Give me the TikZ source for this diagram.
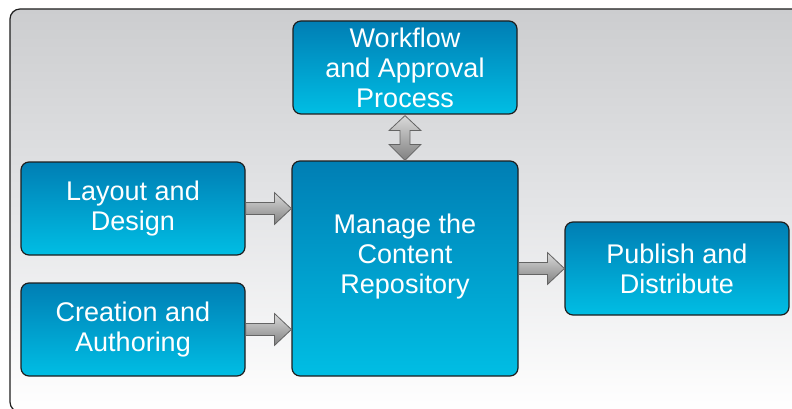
\documentclass[tikz,border=0pt]{standalone}
\usepackage{fontspec}
\setmainfont{Liberation Sans}
\usetikzlibrary{calc}
\definecolor{boxtop}{RGB}{0,126,180}
\definecolor{boxbot}{RGB}{0,190,228}
\definecolor{bgtop}{RGB}{204,205,207}
\definecolor{bgmid}{RGB}{228,229,231}
\definecolor{arrl}{RGB}{218,218,218}
\definecolor{arrd}{RGB}{128,128,128}
\definecolor{arre}{RGB}{100,100,100}
\definecolor{edge}{RGB}{30,30,30}
\tikzset{
  bluebox/.style={draw=edge, line width=1.2pt, rounded corners=8pt,
    top color=boxtop, bottom color=boxbot, text=white, align=center,
    font=\fontsize{27}{30}\selectfont, inner sep=0pt,
    minimum width=224pt, minimum height=93pt},
  boxtext/.style={text=white, align=center, font=\fontsize{27}{30}\selectfont, inner sep=0pt},
  blockarrow/.style={draw=arre, line width=0.8pt, top color=arrl, bottom color=arrd},
  backpanel/.style={draw=edge, line width=1.2pt, rounded corners=10pt,
    top color=bgtop, bottom color=white, middle color=bgmid},
}
\newcommand\harrow[2]{%
  \path[blockarrow] let \p1=(#1), \p2=(#2) in
    (\x1,\y1+6pt) -- (\x2-17pt,\y1+6pt) -- (\x2-17pt,\y1+16pt) -- (\x2,\y1)
    -- (\x2-17pt,\y1-16pt) -- (\x2-17pt,\y1-6pt) -- (\x1,\y1-6pt) -- cycle;}
\begin{document}
\begin{tikzpicture}[x=1pt,y=-1pt]
  \useasboundingbox (0,0) rectangle (792,409);
  \path[backpanel] (10,9) rectangle (802,412);
  \node[bluebox] (wf) at (405,67.5) {Workflow\\and Approval\\Process};
  \node[bluebox] (lay) at (133,208.5) {Layout and\\Design};
  \node[bluebox] (cre) at (133,329.5) {Creation and\\Authoring};
  \node[bluebox, minimum width=226pt, minimum height=215pt] (mg) at (405,268.5) {};
  \node[boxtext] (mgt) at ($(mg.center)+(0,-12)$) {Manage the\\Content\\Repository};
  \node[bluebox] (pub) at (677,268.5) {Publish and\\Distribute};
  \harrow{lay.east}{mg.west |- lay.east}
  \harrow{cre.east}{mg.west |- cre.east}
  \harrow{mg.east |- pub.west}{pub.west}
  \path[blockarrow] let \p1=(wf.south), \p2=(mg.north) in
    (\x1,\y1-1pt) -- (\x1+16pt,\y1-16pt) -- (\x1+5pt,\y1-16pt) -- (\x1+5pt,\y2+16pt)
    -- (\x1+16pt,\y2+16pt) -- (\x1,\y2) -- (\x1-16pt,\y2+16pt) -- (\x1-5pt,\y2+16pt)
    -- (\x1-5pt,\y1-16pt) -- (\x1-16pt,\y1-16pt) -- cycle;
\end{tikzpicture}
\end{document}
